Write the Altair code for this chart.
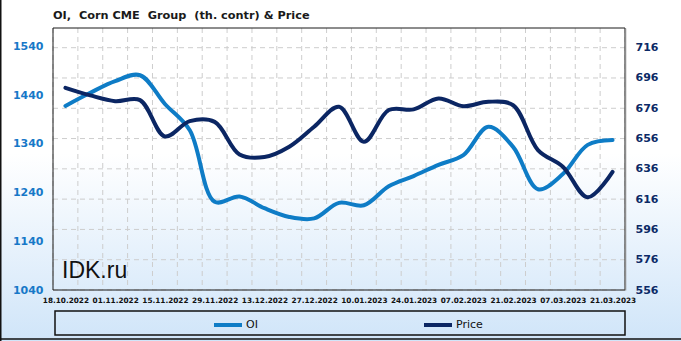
import json
import altair as alt
import pandas as pd

# ---------------- data ----------------
dates = ["18.10.2022", "25.10.2022", "01.11.2022", "08.11.2022", "15.11.2022",
         "22.11.2022", "29.11.2022", "06.12.2022", "13.12.2022", "20.12.2022",
         "27.12.2022", "03.01.2023", "10.01.2023", "17.01.2023", "24.01.2023",
         "31.01.2023", "07.02.2023", "14.02.2023", "21.02.2023", "28.02.2023",
         "07.03.2023", "14.03.2023", "21.03.2023"]
oi = [1418, 1445, 1469, 1481, 1422, 1368, 1221, 1232, 1208, 1190, 1187, 1219,
      1214, 1253, 1274, 1297, 1317, 1375, 1334, 1247, 1278, 1338, 1348]
price = [689.5, 684.5, 680.7, 681.4, 657.4, 667.5, 667.0, 645.5, 643.8, 650.6,
         663.8, 677.0, 653.9, 674.8, 675.3, 682.5, 677.4, 680.3, 678.0, 648.4,
         637.4, 617.2, 634.0]
series_names = ["OI", "Price"]
oi_ticks = [1040, 1140, 1240, 1340, 1440, 1540]
price_ticks = [556, 576, 596, 616, 636, 656, 676, 696, 716]
oi_domain = [1040, 1578]
price_domain = [556, 729]
title_text = "OI,\u00a0 Corn CME\u00a0 Group\u00a0 (th. contr) & Price"
watermark = "IDK.ru"

# ---------------- layout ----------------
W, H = 572, 262
PL, PT, PR, PB = 53, 28, 56, 51
OI_COLOR = "#0e7cc6"
PRICE_COLOR = "#0b2663"
GRID = "#cdcdcd"

n = len(dates)
idx = list(range(n))
df = pd.DataFrame({
    "idx": idx * 2,
    "date": dates * 2,
    "series": [series_names[0]] * n + [series_names[1]] * n,
    "value": oi + price,
})
x_edges = pd.DataFrame({"xe": [i - 0.5 for i in range(n + 1)]})
y_grid = pd.DataFrame({"yg": price_ticks})
one = pd.DataFrame({"k": [0]})

xscale = alt.Scale(domain=[-0.5, n - 0.5], nice=False, zero=False)
xaxis = alt.Axis(
    values=idx[::2],
    labelExpr=json.dumps(dates) + "[datum.value]",
    grid=False, ticks=False, domain=False, title=None,
    labelFont="DejaVu Sans", labelFontSize=7.3, labelFontWeight="bold",
    labelColor="#111111", labelPadding=6, labelOverlap=False,
    labelFlush=False, labelBound=False, zindex=1,
)

color_enc = alt.Color(
    "series:N",
    scale=alt.Scale(domain=series_names, range=[OI_COLOR, PRICE_COLOR]),
    legend=alt.Legend(
        orient="none", legendX=159, legendY=281, direction="horizontal",
        title=None, symbolType="stroke", symbolStrokeWidth=4, symbolSize=784,
        labelFont="DejaVu Sans", labelFontSize=11, labelColor="#111111",
        columnPadding=158, labelOffset=2, padding=0,
    ),
)

grad = alt.LinearGradient(
    gradient="linear",
    stops=[alt.GradientStop(color="#ffffff", offset=0),
           alt.GradientStop(color="#ffffff", offset=0.45),
           alt.GradientStop(color="#d0e5f9", offset=1)],
    x1=0, x2=0, y1=0, y2=1,
)

bg = alt.Chart(one).mark_rect(fill=grad).encode(
    x=alt.value(-PL), x2=alt.value(W + PR), y=alt.value(-PT), y2=alt.value(H + PB)
)

vgrid = alt.Chart(x_edges).mark_rule(color=GRID, strokeDash=[5, 4], strokeWidth=1).encode(
    x=alt.X("xe:Q", scale=xscale, axis=xaxis)
)
hgrid = alt.Chart(y_grid).mark_rule(color=GRID, strokeDash=[5, 4], strokeWidth=1).encode(
    y=alt.Y("yg:Q", scale=alt.Scale(domain=price_domain, nice=False, zero=False), axis=None)
)
frame = alt.Chart(one).mark_rect(fillOpacity=0, stroke="#1a1a1a", strokeWidth=1).encode(
    x=alt.value(0), x2=alt.value(W), y=alt.value(0), y2=alt.value(H)
)

line_kw = dict(interpolate="catmull-rom", strokeWidth=4, strokeCap="round", strokeJoin="round")

oi_line = alt.Chart(df).transform_filter(f"datum.series == '{series_names[0]}'").mark_line(**line_kw).encode(
    x=alt.X("idx:Q", scale=xscale, axis=xaxis),
    y=alt.Y("value:Q", scale=alt.Scale(domain=oi_domain, nice=False, zero=False),
            axis=alt.Axis(orient="left", values=oi_ticks, format="d", grid=False, ticks=False,
                          domain=False, title=None, labelFont="DejaVu Sans",
                          labelFontSize=11, labelFontWeight="bold",
                          labelColor="#1778c8", labelPadding=10, zindex=1,
                          labelFlush=False, labelOverlap=False)),
    color=color_enc,
)
price_line = alt.Chart(df).transform_filter(f"datum.series == '{series_names[1]}'").mark_line(**line_kw).encode(
    x=alt.X("idx:Q", scale=xscale, axis=xaxis),
    y=alt.Y("value:Q", scale=alt.Scale(domain=price_domain, nice=False, zero=False),
            axis=alt.Axis(orient="right", values=price_ticks, format="d", grid=False, ticks=False,
                          domain=True, domainColor="#8c8c8c", domainWidth=1.5,
                          title=None, labelFont="DejaVu Sans",
                          labelFontSize=11, labelFontWeight="bold",
                          labelColor="#0c2a66", labelPadding=10, zindex=1,
                          labelFlush=False, labelOverlap=False)),
    color=color_enc,
)

wm = alt.Chart(one).mark_text(align="left", baseline="alphabetic", font="Liberation Sans",
                              fontSize=23, color="#111111").encode(
    x=alt.value(9), y=alt.value(250), text=alt.value(watermark)
)
title = alt.Chart(one).mark_text(align="left", baseline="alphabetic", font="DejaVu Sans",
                                 fontSize=11.3, fontWeight="bold", color="#1a1a1a").encode(
    x=alt.value(0), y=alt.value(-9), text=alt.value(title_text)
)
legend_box = alt.Chart(one).mark_rect(fillOpacity=0, stroke="#111111", strokeWidth=1.5).encode(
    x=alt.value(2), x2=alt.value(W), y=alt.value(283), y2=alt.value(307)
)
border_left = alt.Chart(one).mark_rule(color="#111111", strokeWidth=1.5).encode(
    x=alt.value(-PL + 0.75), y=alt.value(-PT), y2=alt.value(H + PB)
)
border_bottom = alt.Chart(one).mark_rule(color="#111111", strokeWidth=1.5).encode(
    x=alt.value(-PL), x2=alt.value(W + PR), y=alt.value(H + PB - 2)
)

chart = alt.layer(
    bg, vgrid, hgrid, frame, oi_line, price_line, wm, title, legend_box,
    border_left, border_bottom
).resolve_scale(y="independent").properties(
    width=W, height=H,
    padding={"left": PL, "top": PT, "right": PR, "bottom": PB},
    autosize=alt.AutoSizeParams(type="none"),
    background="#ffffff",
).configure_view(strokeWidth=0)

chart.save("out.html", embed_options={"renderer": "svg", "actions": False})
